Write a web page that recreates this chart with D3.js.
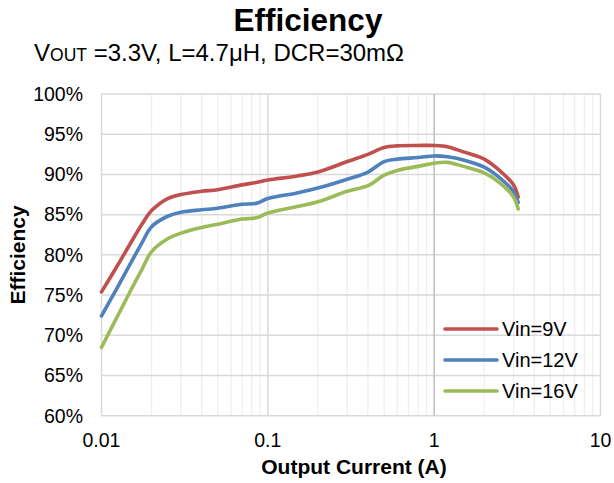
<!DOCTYPE html>
<html>
<head>
<meta charset="utf-8">
<script src="https://cdn.jsdelivr.net/npm/d3@7"></script>
<style>
  html, body { margin: 0; padding: 0; background: #fff; }
  svg { display: block; font-family: "Liberation Sans", Arial, sans-serif; }
</style>
</head>
<body>
<svg id="chart" width="614" height="483"></svg>
<script>
// ---- data ----
const current = [0.01, 0.0125, 0.015, 0.0175, 0.02, 0.025, 0.03, 0.04, 0.05, 0.07, 0.085, 0.1, 0.15, 0.2, 0.3, 0.4, 0.5, 0.6, 0.8, 1.0, 1.2, 1.5, 2.0, 2.5, 3.0, 3.2];
const vin9  = [75.4, 78.7, 81.5, 83.8, 85.5, 87.0, 87.5, 87.9, 88.1, 88.7, 89.0, 89.3, 89.8, 90.3, 91.6, 92.5, 93.35, 93.55, 93.6, 93.6, 93.45, 92.8, 91.9, 90.4, 88.7, 87.2];
const vin12 = [72.4, 76.0, 79.0, 81.5, 83.5, 84.8, 85.3, 85.6, 85.8, 86.3, 86.4, 87.0, 87.7, 88.3, 89.4, 90.3, 91.6, 91.9, 92.1, 92.3, 92.2, 91.8, 90.9, 89.5, 87.85, 86.5];
const vin16 = [68.5, 72.4, 75.6, 78.2, 80.4, 82.0, 82.7, 83.4, 83.8, 84.45, 84.6, 85.2, 86.0, 86.6, 87.9, 88.6, 89.9, 90.5, 91.0, 91.4, 91.5, 91.0, 90.2, 88.9, 87.2, 85.7];
const seriesNames = ["Vin=9V", "Vin=12V", "Vin=16V"];
const seriesColors = ["#C0504D", "#4F81BD", "#9BBB59"];
const xTicks = [0.01, 0.1, 1, 10];
const xTickLabels = ["0.01", "0.1", "1", "10"];
const yTicks = [60, 65, 70, 75, 80, 85, 90, 95, 100];
const titleText = "Efficiency";
const xTitle = "Output Current (A)";
const yTitle = "Efficiency";

// ---- layout ----
const svg = d3.select("#chart");
const plot = { left: 101.5, right: 600.5, top: 94, bottom: 415.7 };
const x = d3.scaleLog().domain([0.01, 10]).range([plot.left, plot.right]);
const y = d3.scaleLinear().domain([60, 100]).range([plot.bottom, plot.top]);

// minor vertical gridlines
const minor = [];
[0.01, 0.1, 1].forEach(d => { for (let k = 2; k <= 9; k++) minor.push(d * k); });
svg.append("g").selectAll("line").data(minor).join("line")
  .attr("x1", d => x(d)).attr("x2", d => x(d))
  .attr("y1", plot.top).attr("y2", plot.bottom)
  .attr("stroke", "#ededed").attr("stroke-width", 1.2);

// horizontal major gridlines
svg.append("g").selectAll("line").data(yTicks).join("line")
  .attr("x1", plot.left).attr("x2", plot.right)
  .attr("y1", d => y(d)).attr("y2", d => y(d))
  .attr("stroke", "#d9d9d9").attr("stroke-width", 1.5);

// vertical major gridlines
svg.append("g").selectAll("line").data(xTicks).join("line")
  .attr("x1", d => x(d)).attr("x2", d => x(d))
  .attr("y1", plot.top).attr("y2", plot.bottom)
  .attr("stroke", d => d === 1 ? "#bfbfbf" : "#d9d9d9").attr("stroke-width", 1.5);

// y tick labels
svg.append("g").selectAll("text").data(yTicks).join("text")
  .attr("x", 83).attr("y", d => y(d)).attr("dy", "0.35em")
  .attr("text-anchor", "end").attr("font-size", 19.5).attr("fill", "#000")
  .text(d => d + "%");

// x tick labels
svg.append("g").selectAll("text").data(xTicks).join("text")
  .attr("x", d => x(d)).attr("y", 440).attr("dy", "0.35em")
  .attr("text-anchor", "middle").attr("font-size", 19.5).attr("fill", "#000")
  .text((d, i) => xTickLabels[i]);

// lines
const allSeries = [vin9, vin12, vin16];
const line = d3.line().x(d => x(d[0])).y(d => y(d[1])).curve(d3.curveCatmullRom.alpha(0.5));
allSeries.forEach((vals, i) => {
  svg.append("path")
    .datum(current.map((c, j) => [c, vals[j]]))
    .attr("d", line).attr("fill", "none")
    .attr("stroke", seriesColors[i]).attr("stroke-width", 3.6)
    .attr("stroke-linejoin", "round").attr("stroke-linecap", "round");
});

// legend
const legend = svg.append("g");
seriesNames.forEach((name, i) => {
  const ly = 329 + i * 31;
  legend.append("line").attr("x1", 445).attr("x2", 497).attr("y1", ly).attr("y2", ly)
    .attr("stroke", seriesColors[i]).attr("stroke-width", 3.6).attr("stroke-linecap", "round");
  legend.append("text").attr("x", 502).attr("y", ly).attr("dy", "0.35em")
    .attr("font-size", 20).attr("fill", "#000").text(name);
});

// titles
svg.append("text").attr("x", 308).attr("y", 31).attr("text-anchor", "middle")
  .attr("font-size", 31.5).attr("font-weight", "bold").attr("fill", "#000").text(titleText);

const sub = svg.append("text").attr("x", 34).attr("y", 61).attr("font-size", 24).attr("fill", "#000");
sub.append("tspan").text("V");
sub.append("tspan").attr("font-size", 17.5).text("OUT");
sub.append("tspan").text(" =3.3V, L=4.7μH, DCR=30mΩ");

svg.append("text").attr("x", 354).attr("y", 467).attr("dy", "0.35em").attr("text-anchor", "middle")
  .attr("font-size", 21).attr("font-weight", "bold").attr("fill", "#000").text(xTitle);

svg.append("text").attr("transform", "translate(18,255) rotate(-90)").attr("dy", "0.35em")
  .attr("text-anchor", "middle").attr("font-size", 21).attr("font-weight", "bold")
  .attr("fill", "#000").text(yTitle);
</script>
</body>
</html>
